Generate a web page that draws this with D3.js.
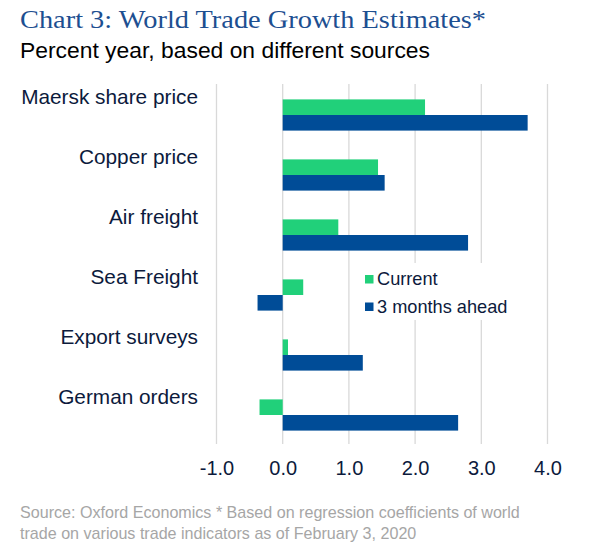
<!DOCTYPE html>
<html>
<head>
<meta charset="utf-8">
<script src="https://cdn.jsdelivr.net/npm/d3@7"></script>
<style>
  html, body { margin: 0; padding: 0; background: #fff; }
  svg { display: block; }
</style>
</head>
<body>
<svg id="chart" width="603" height="548"></svg>
<script>
const categories = ["Maersk share price", "Copper price", "Air freight", "Sea Freight", "Export surveys", "German orders"];
const currentValues = [2.15, 1.44, 0.84, 0.31, 0.08, -0.35];
const aheadValues = [3.70, 1.54, 2.80, -0.38, 1.21, 2.65];
const seriesNames = ["Current", "3 months ahead"];
const tickValues = [-1, 0, 1, 2, 3, 4];

const colors = { current: "#21d07a", ahead: "#004c97" };
const navy = "#0c1a3c";

const svg = d3.select("#chart");

const x = d3.scaleLinear().domain([-1, 4]).range([216.5, 547.5]);
const y = d3.scaleBand().domain(categories).range([85, 445]).paddingInner(0).paddingOuter(0);
const barH = 15.6;

// Title
svg.append("text")
  .attr("x", 20).attr("y", 28)
  .attr("font-family", "'Liberation Serif', 'Times New Roman', serif")
  .attr("font-size", 26)
  .attr("fill", "#1d4f91")
  .attr("textLength", 466)
  .attr("lengthAdjust", "spacingAndGlyphs")
  .text("Chart 3: World Trade Growth Estimates*");

svg.append("text")
  .attr("x", 20).attr("y", 58)
  .attr("font-family", "'Liberation Sans', Arial, sans-serif")
  .attr("font-size", 22.5)
  .attr("fill", "#000")
  .attr("textLength", 410)
  .attr("lengthAdjust", "spacingAndGlyphs")
  .text("Percent year, based on different sources");

// Gridlines
const grid = svg.append("g");
grid.selectAll("line").data(tickValues).join("line")
  .attr("x1", d => x(d)).attr("x2", d => x(d))
  .attr("y1", 84).attr("y2", 444)
  .attr("stroke", "#d9d9d9").attr("stroke-width", 1.3);

// Bars
const groups = svg.append("g").selectAll("g").data(categories).join("g");
groups.append("rect")
  .attr("x", (d, i) => x(Math.min(0, currentValues[i])))
  .attr("width", (d, i) => Math.abs(x(currentValues[i]) - x(0)))
  .attr("y", d => y(d) + y.bandwidth() / 2 - barH)
  .attr("height", barH)
  .attr("fill", colors.current);
groups.append("rect")
  .attr("x", (d, i) => x(Math.min(0, aheadValues[i])))
  .attr("width", (d, i) => Math.abs(x(aheadValues[i]) - x(0)))
  .attr("y", d => y(d) + y.bandwidth() / 2)
  .attr("height", barH)
  .attr("fill", colors.ahead);

// Category labels
svg.append("g").selectAll("text").data(categories).join("text")
  .attr("x", 198)
  .attr("y", d => y(d) + y.bandwidth() / 2 - 11)
  .attr("text-anchor", "end")
  .attr("font-family", "'Liberation Sans', Arial, sans-serif")
  .attr("font-size", 20.8)
  .attr("fill", navy)
  .text(d => d);

// X axis
const xAxis = d3.axisBottom(x).tickValues(tickValues).tickFormat(d3.format(".1f")).tickSize(0).tickPadding(0);
const ax = svg.append("g").attr("transform", "translate(0,461)").call(xAxis);
ax.select(".domain").remove();
ax.selectAll("text")
  .attr("dy", "0.71em")
  .attr("font-family", "'Liberation Sans', Arial, sans-serif")
  .attr("font-size", 20)
  .attr("fill", navy)
  .text(d => d < 0 ? "-" + Math.abs(d).toFixed(1) : d3.format(".1f")(d));

// Legend
const legend = svg.append("g");
legend.append("rect").attr("x", 358).attr("y", 263).attr("width", 160).attr("height", 57).attr("fill", "#fff");
const legendColors = [colors.current, colors.ahead];
seriesNames.forEach((name, i) => {
  legend.append("rect")
    .attr("x", 365).attr("y", 275 + i * 27.5)
    .attr("width", 8.5).attr("height", 8.5)
    .attr("fill", legendColors[i]);
  legend.append("text")
    .attr("x", 377).attr("y", 285 + i * 27.5)
    .attr("font-family", "'Liberation Sans', Arial, sans-serif")
    .attr("font-size", 18.2)
    .attr("fill", navy)
    .text(name);
});

// Source
const src = svg.append("text")
  .attr("font-family", "'Liberation Sans', Arial, sans-serif")
  .attr("font-size", 16.1)
  .attr("fill", "#a6a6a6");
src.append("tspan").attr("x", 20).attr("y", 518).text("Source: Oxford Economics * Based on regression coefficients of world");
src.append("tspan").attr("x", 20).attr("y", 539).text("trade on various trade indicators as of February 3, 2020");
</script>
</body>
</html>
